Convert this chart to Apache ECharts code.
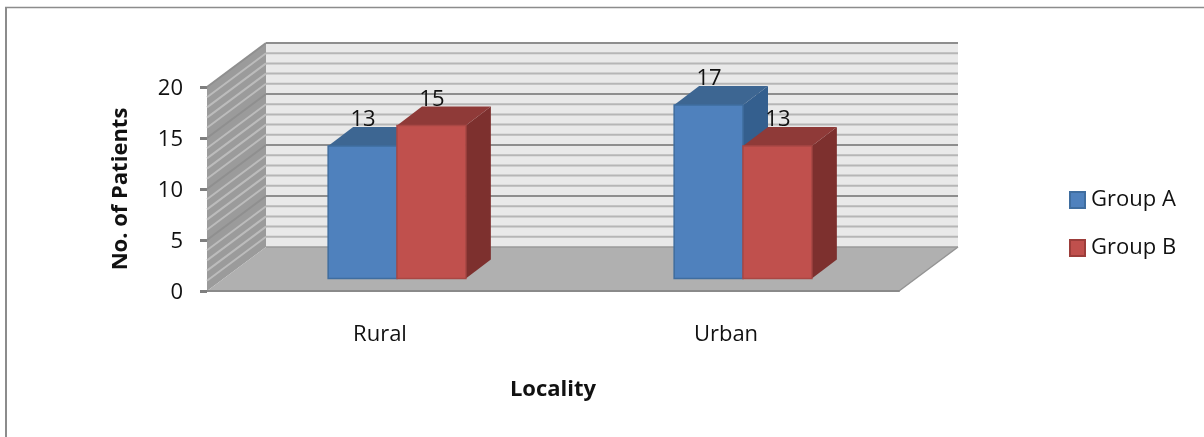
<!DOCTYPE html>
<html>
<head>
<meta charset="utf-8">
<style>html,body{margin:0;padding:0;background:#fff}#chart{width:1204px;height:437px}</style>
<script src="https://cdn.jsdelivr.net/npm/echarts@6/dist/echarts.min.js"></script>
</head>
<body>
<div id="chart"></div>
<script>
// Chart values
const categories = ['Rural', 'Urban'];
const groupA = [13, 17];
const groupB = [15, 13];
const wallGridValues = [1,2,3,4,5,6,7,8,9,10,11,12,13,14,15,16,17,18,19,20];

// Oblique projection used for the pseudo-3D box
const DEPTH_X = 59, DEPTH_Y = -44;
const BAR_DEPTH_X = 25, BAR_DEPTH_Y = -19;
const BAR_BAND_SHARE = 0.199;
const FONT = '"Open Sans", "Noto Sans", sans-serif';
const FONT_SIZE = 22;

const poly = (points, fill, stroke) => ({
  type: 'polygon',
  shape: { points },
  style: { fill, stroke: stroke || fill, lineWidth: stroke ? 1 : 0 }
});
const seg = (x1, y1, x2, y2, stroke, lineWidth) => ({
  type: 'line',
  shape: { x1, y1, x2, y2 },
  style: { stroke, lineWidth }
});

// Floor, back wall and side wall of the box
function renderBox(params, api) {
  const o = api.coord([0, 0]);
  const t = api.coord([0, 20]);
  const left = params.coordSys.x, right = left + params.coordSys.width;
  return {
    type: 'group',
    children: [
      poly([[left + DEPTH_X, t[1] + DEPTH_Y], [right + DEPTH_X, t[1] + DEPTH_Y],
            [right + DEPTH_X, o[1] + DEPTH_Y], [left + DEPTH_X, o[1] + DEPTH_Y]], '#e9e9e9'),
      poly([[left, t[1]], [left + DEPTH_X, t[1] + DEPTH_Y],
            [left + DEPTH_X, o[1] + DEPTH_Y], [left, o[1]]], '#9b9b9b'),
      poly([[left, o[1]], [left + DEPTH_X, o[1] + DEPTH_Y],
            [right + DEPTH_X, o[1] + DEPTH_Y], [right, o[1]]], '#b0b0b0'),
      seg(right, o[1], right + DEPTH_X, o[1] + DEPTH_Y, '#949494', 1.5),
      seg(left + DEPTH_X, o[1] + DEPTH_Y, right + DEPTH_X, o[1] + DEPTH_Y, '#9a9a9a', 1.5)
    ]
  };
}

// One horizontal gridline across the back wall, continued down the side wall
function renderGridline(params, api) {
  const v = api.value(0);
  const y = api.coord([0, v])[1];
  const left = params.coordSys.x, right = left + params.coordSys.width;
  const major = v % 5 === 0;
  return {
    type: 'group',
    children: [
      seg(left + DEPTH_X, y + DEPTH_Y, right + DEPTH_X, y + DEPTH_Y, major ? '#8e8e8e' : '#b6b6b6', 2),
      seg(left, y, left + DEPTH_X, y + DEPTH_Y, major ? '#8f8f8f' : '#bcbcbc', 2)
    ]
  };
}

// A bar as three faces, with its value above the front face
function barRenderer(slot, colors) {
  return function (params, api) {
    const idx = api.value(0), val = api.value(1);
    const base = api.coord([idx, 0]);
    const top = api.coord([idx, val]);
    const w = api.size([1, 0])[0] * BAR_BAND_SHARE;
    const ox = (DEPTH_X - BAR_DEPTH_X) / 2, oy = (DEPTH_Y - BAR_DEPTH_Y) / 2;
    const x0 = base[0] + ox + slot * w, x1 = x0 + w;
    const y0 = base[1] + oy, y1 = top[1] + oy;
    const dx = BAR_DEPTH_X, dy = BAR_DEPTH_Y;
    return {
      type: 'group',
      children: [
        poly([[x1, y1], [x1 + dx, y1 + dy], [x1 + dx, y0 + dy], [x1, y0]], colors.side),
        poly([[x0, y1], [x0 + dx, y1 + dy], [x1 + dx, y1 + dy], [x1, y1]], colors.top),
        {
          type: 'rect',
          shape: { x: x0, y: y1, width: w, height: y0 - y1 },
          style: { fill: colors.front, stroke: colors.edge, lineWidth: 1.5 }
        },
        {
          type: 'text',
          z2: 50,
          style: {
            x: (x0 + x1) / 2 + 0.5, y: y1 - 26, text: String(val),
            fill: '#111', font: FONT_SIZE + 'px ' + FONT, align: 'center', verticalAlign: 'middle'
          }
        }
      ]
    };
  };
}

const blue = { front: '#4f81bd', edge: '#3f6d9f', top: '#3d6692', side: '#345f8e' };
const red = { front: '#c0504d', edge: '#a94744', top: '#8f3a38', side: '#7d302e' };

const chart = echarts.init(document.getElementById('chart'), null, { renderer: 'canvas' });
chart.setOption({
  animation: false,
  backgroundColor: '#fff',
  grid: { left: 207, top: 87, width: 692, height: 204, containLabel: false },
  xAxis: {
    type: 'category',
    data: categories,
    axisTick: { show: false },
    axisLine: { show: true, lineStyle: { color: '#8a8a8a', width: 2 } },
    axisLabel: { margin: 33, color: '#111', fontFamily: FONT, fontSize: FONT_SIZE },
    name: 'Locality',
    nameLocation: 'middle',
    nameGap: 88,
    nameTextStyle: { color: '#111', fontFamily: FONT, fontSize: FONT_SIZE, fontWeight: 'bold' }
  },
  yAxis: {
    type: 'value',
    min: 0,
    max: 20,
    interval: 5,
    splitLine: { show: false },
    axisLine: { show: false },
    axisTick: { show: true, length: 7, lineStyle: { color: '#7f7f7f', width: 3 } },
    axisLabel: { margin: 24, color: '#111', fontFamily: FONT, fontSize: FONT_SIZE, verticalAlign: 'top', lineHeight: 4 },
    name: 'No. of Patients',
    nameLocation: 'middle',
    nameGap: 75,
    nameTextStyle: { color: '#111', fontFamily: FONT, fontSize: FONT_SIZE, fontWeight: 'bold' }
  },
  legend: {
    orient: 'vertical',
    left: 1064,
    top: 175,
    itemWidth: 15,
    itemHeight: 16,
    itemGap: 8,
    textStyle: { color: '#111', fontFamily: FONT, fontSize: FONT_SIZE, padding: [0, 0, 0, 1], lineHeight: 40 },
    data: [
      { name: 'Group A', icon: 'rect', itemStyle: { color: blue.front, borderColor: blue.edge, borderWidth: 2 } },
      { name: 'Group B', icon: 'rect', itemStyle: { color: red.front, borderColor: '#9c3d3a', borderWidth: 2 } }
    ]
  },
  graphic: [
    { type: 'line', silent: true, z: 100, shape: { x1: 5, y1: 7.5, x2: 1204, y2: 7.5 }, style: { stroke: '#8c8c8c', lineWidth: 1.5 } },
    { type: 'line', silent: true, z: 100, shape: { x1: 6, y1: 7, x2: 6, y2: 437 }, style: { stroke: '#8c8c8c', lineWidth: 2 } }
  ],
  series: [
    { type: 'custom', name: 'box', silent: true, z: 0, clip: false, data: [[0]], renderItem: renderBox },
    { type: 'custom', name: 'gridlines', silent: true, z: 1, clip: false, data: wallGridValues.map(v => [v]), renderItem: renderGridline },
    { type: 'custom', name: 'Group A', z: 5, clip: false, itemStyle: { color: blue.front },
      data: groupA.map((v, i) => [i, v]), renderItem: barRenderer(-1, blue) },
    { type: 'custom', name: 'Group B', z: 6, clip: false, itemStyle: { color: red.front },
      data: groupB.map((v, i) => [i, v]), renderItem: barRenderer(0, red) }
  ]
});
</script>
</body>
</html>
